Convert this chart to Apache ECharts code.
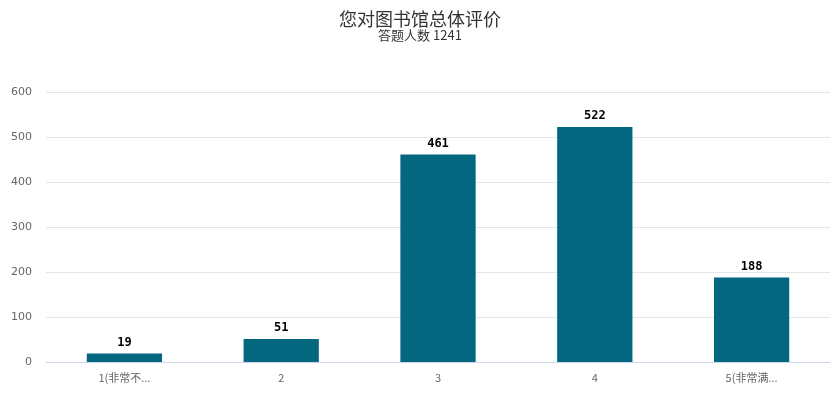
<!DOCTYPE html>
<html><head><meta charset="utf-8">
<script src="https://cdn.jsdelivr.net/npm/echarts@6/dist/echarts.min.js"></script>
<style>html,body{margin:0;padding:0;background:#fff}#c{width:840px;height:400px}</style>
</head><body><div id="c"></div>
<script>
const categories = ['1(非常不...', '2', '3', '4', '5(非常满...'];
const counts = [19, 51, 461, 522, 188];
const yTicks = [0, 100, 200, 300, 400, 500, 600];
const titleText = '您对图书馆总体评价';
const subtitleText = '答题人数 1241';

const chart = echarts.init(document.getElementById('c'));
chart.setOption({
  animation: false,
  backgroundColor: '#fff',
  title: {
    text: titleText, subtext: subtitleText, left: 'center', top: 5, itemGap: 1,
    textStyle: { fontSize: 18, fontWeight: 'normal', color: '#333', fontFamily: 'Noto Sans CJK SC' },
    subtextStyle: { fontSize: 13, color: '#333', fontFamily: 'Noto Sans CJK SC' }
  },
  grid: { left: 46, right: 10, top: 92, bottom: 38 },
  xAxis: {
    type: 'category', data: categories,
    axisLine: { lineStyle: { color: '#ccd6eb' } },
    axisTick: { show: false },
    axisLabel: { color: '#666', fontSize: 11, margin: 10, fontFamily: 'Noto Sans CJK SC' }
  },
  yAxis: {
    type: 'value', min: yTicks[0], max: yTicks[yTicks.length - 1], interval: 100,
    axisLine: { show: false }, axisTick: { show: false },
    splitLine: { lineStyle: { color: '#e6e6e6' } },
    axisLabel: { color: '#666', fontSize: 11, margin: 14, fontFamily: 'DejaVu Sans' }
  },
  series: [{
    type: 'bar', data: counts, barWidth: '48%',
    itemStyle: { color: '#03677f' },
    label: { show: true, position: 'top', distance: 5, color: '#000', fontSize: 12, fontWeight: 'bold', fontFamily: 'DejaVu Sans Mono' }
  }]
});
</script></body></html>
